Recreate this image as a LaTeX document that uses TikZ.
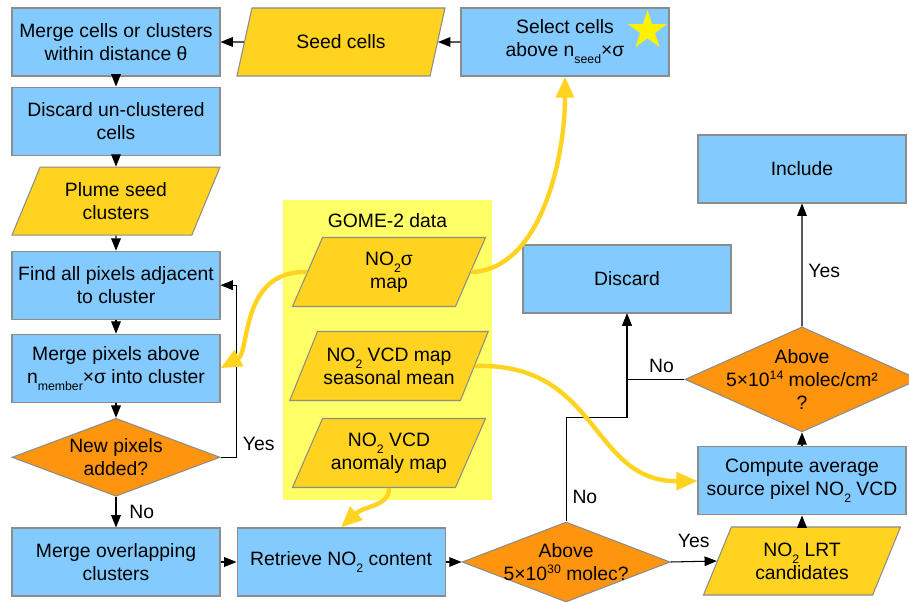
\documentclass[tikz,border=0pt]{standalone}
\usepackage{fontspec}
\setmainfont{Liberation Sans}
\usetikzlibrary{positioning,shapes.geometric,arrows.meta}

\definecolor{boxblue}{RGB}{131,202,255}
\definecolor{decorange}{RGB}{255,149,14}
\definecolor{datagold}{RGB}{255,211,32}
\definecolor{gomeyellow}{RGB}{255,255,102}
\definecolor{edgegray}{RGB}{140,140,140}

\newcommand{\lo}[1]{\raisebox{-0.7ex}{\fontsize{7}{8}\selectfont #1}}
\newcommand{\hi}[1]{\raisebox{0.7ex}{\fontsize{7}{8}\selectfont #1}}
\newcommand{\flowfont}{\fontsize{11}{13}\selectfont}

\begin{document}
\begin{tikzpicture}[
        proc/.style = {
            draw=edgegray,
            line width=0.6pt,
            fill=boxblue,
            align=center,
            minimum width=4.16cm,
            minimum height=1.36cm,
            font=\flowfont
        },
        iodata/.style = {
            trapezium,
            trapezium left angle=60,
            trapezium right angle=120,
            trapezium stretches body,
            draw=edgegray,
            line width=0.6pt,
            fill=datagold,
            align=center,
            minimum width=4.16cm,
            minimum height=1.36cm,
            font=\flowfont
        },
        decision/.style = {
            diamond,
            aspect=2.6,
            draw=edgegray,
            line width=0.6pt,
            fill=decorange,
            align=center,
            inner sep=0pt,
            minimum width=4.16cm,
            minimum height=1.56cm,
            font=\flowfont
        },
        lbl/.style = {font=\flowfont},
        arr/.style = {-{Triangle[length=7pt,width=5.5pt]}, line width=0.6pt},
        feed/.style = {-{Triangle[length=12pt,width=10pt]}, line width=2.5pt, draw=datagold}
    ]

    \useasboundingbox (0,0) rectangle (18.18,-12.04);

    % GOME-2 input block
    \node[fill=gomeyellow, minimum width=4.18cm, minimum height=6cm] (gome) at (7.75,-7.0) {};
    \node[lbl] (gometitle) at (7.75,-4.42) {GOME-2 data};
    \node[iodata, minimum width=3.86cm, minimum height=1.38cm] (sigma) at (7.78,-5.44) {NO\lo{2}σ\\map};
    \node[iodata, minimum width=3.86cm, minimum height=1.38cm] (season) at (7.78,-7.32) {NO\lo{2} VCD map\\seasonal mean};
    \node[iodata, minimum width=3.86cm, minimum height=1.38cm] (anomaly) at (7.78,-9.06) {NO\lo{2} VCD\\anomaly map};

    % clustering column
    \node[proc] (merge) at (2.32,-0.84) {Merge cells or clusters\\within distance θ};
    \node[proc, below=0.2cm of merge] (discard) {Discard un-clustered\\cells};
    \node[iodata, below=0.22cm of discard] (plume) {Plume seed\\clusters};
    \node[proc, below=0.3cm of plume] (find) {Find all pixels adjacent\\to cluster};
    \node[proc, below=0.28cm of find] (mergepix) {Merge pixels above\\n\lo{member}×σ into cluster};
    \node[decision, below=0.3cm of mergepix] (newpix) {New pixels\\added?};
    \node[proc] (mergeover) at (2.32,-11.24) {Merge overlapping\\clusters};
    \node[proc, right=0.32cm of mergeover] (retrieve) {Retrieve NO\lo{2} content};
    \node[decision, inner sep=-2pt, minimum height=1.6cm, right=0.32cm of retrieve] (above30) {Above\\5×10\hi{30} molec?};

    % top row
    \node[proc] (select) at (11.30,-0.84) {Select cells\\above n\lo{seed}×σ};
    \node[star, star points=5, star point ratio=2.618, fill=yellow, minimum size=0.82cm, inner sep=0pt] (star) at (12.95,-0.61) {};
    \node[iodata] (seed) at (6.82,-0.84) {Seed cells};

    % right column
    \node[iodata, minimum width=3.94cm] (lrt) at (16.04,-11.22) {NO\lo{2} LRT\\candidates};
    \node[proc, above=0.22cm of lrt] (compute) {Compute average\\source pixel NO\lo{2} VCD};
    \node[decision, aspect=2.23, inner sep=-5pt, minimum width=4.68cm, minimum height=2.1cm, above=0.28cm of compute] (above14) {Above\\5×10\hi{14} molec/cm²\\?};
    \node[proc] (include) at (16.04,-3.38) {Include};
    \node[proc] (discardb) at (12.54,-5.58) {Discard};

    % flow
    \draw[arr] (select.west) -- (seed.east);
    \draw[arr] (seed.west) -- (merge.east);
    \draw[arr] (merge) -- (discard);
    \draw[arr] (discard) -- (plume);
    \draw[arr] (plume) -- (find);
    \draw[arr] (find) -- (mergepix);
    \draw[arr] (mergepix) -- (newpix);
    \draw[arr] (newpix.east) -- ++(0.32,0) node[lbl, above right] (yesloop) {Yes} |- (find.east);
    \draw[arr] (newpix) -- (mergeover) node[lbl, midway, right=4pt] (nomerge) {No};
    \draw[arr] (mergeover) -- (retrieve);
    \draw[arr] (retrieve) -- (above30);
    \draw[arr] (above30.east) -- (lrt.west) node[lbl, midway, above=4pt] (yeslrt) {Yes};
    \draw[arr] (above30.north) -- ++(0,2.08) node[lbl, pos=0.24, right] (nosmall) {No} -| (discardb.south);
    \draw[arr] (lrt) -- (compute);
    \draw[arr] (compute) -- (above14);
    \draw[arr] (above14.north) -- (include.south) node[lbl, pos=0.45, right] (yesinc) {Yes};
    \draw[arr] (above14.west) -| (discardb.south) node[lbl, pos=0.2, above] (nolow) {No};

    % data feeds
    \draw[feed] (sigma.east) .. controls (10.8,-5.4) and (11.3,-3.2) .. (select.south);
    \draw[feed] (sigma.west) .. controls (4.8,-5.4) and (5.0,-7.04) .. (mergepix.east);
    \draw[feed] (season.east) .. controls (12.0,-7.24) and (11.8,-9.64) .. (compute.west);
    \draw[feed] (anomaly.south) .. controls (7.78,-10.14) and (7.3,-10.1) .. (retrieve.north);
\end{tikzpicture}
\end{document}
